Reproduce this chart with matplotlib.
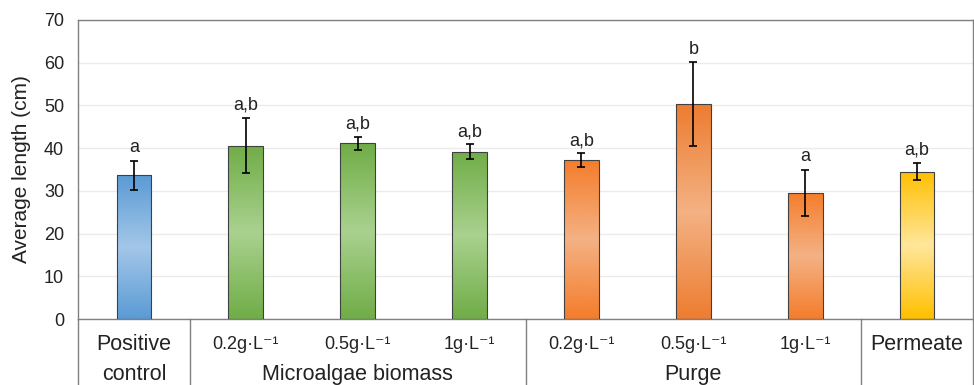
import numpy as np
import matplotlib.pyplot as plt
from matplotlib.colors import LinearSegmentedColormap

plt.rcParams['font.family'] = ['Liberation Sans', 'DejaVu Sans']

# data
sub_labels = ['Positive', '0.2g·L⁻¹', '0.5g·L⁻¹', '1g·L⁻¹',
              '0.2g·L⁻¹', '0.5g·L⁻¹', '1g·L⁻¹', 'Permeate']
groups = ['control', 'Microalgae biomass', 'Purge', '']
group_span = [(0, 0), (1, 3), (4, 6), (7, 7)]
means = [33.6, 40.6, 41.1, 39.2, 37.2, 50.3, 29.5, 34.5]
errs = [3.5, 6.5, 1.5, 1.7, 1.6, 9.8, 5.5, 2.0]
letters = ['a', 'a,b', 'a,b', 'a,b', 'a,b', 'b', 'a', 'a,b']
dark = ['#5B9BD5', '#70AD47', '#70AD47', '#70AD47', '#F47D2C', '#ED7D31', '#F47D2C', '#FFC000']
light = ['#A2C6E8', '#A9D18E', '#A9D18E', '#A9D18E', '#F4B183', '#F4B183', '#F4B183', '#FFE699']

fig = plt.figure(figsize=(9.74, 3.85), dpi=100)
ax = fig.add_axes([78/974, 66/385, 895/974, 299/385])

x = np.arange(len(means))
bars = ax.bar(x, means, 0.31, color='none', edgecolor='#404040', linewidth=0.8, zorder=3)

# vertical gradient: dark at both ends, light in the middle
grad = np.concatenate([np.linspace(0, 1, 50), np.linspace(1, 0, 50)]).reshape(-1, 1)
for b, d, l in zip(bars, dark, light):
    cmap = LinearSegmentedColormap.from_list('g', [d, l])
    im = ax.imshow(grad, cmap=cmap, aspect='auto', zorder=2,
                   extent=[b.get_x(), b.get_x() + b.get_width(), 0, b.get_height()])
    im.set_clip_path(b)

ax.errorbar(x, means, yerr=errs, fmt='none', ecolor='black', elinewidth=1.2,
            capsize=3, capthick=1.2, zorder=4)

for xi, m, e, t in zip(x, means, errs, letters):
    ax.annotate(t, (xi, m + e), xytext=(0, 3), textcoords='offset points',
                ha='center', va='bottom', fontsize=13, color='#222222')

ax.set_xlim(-0.5, 7.5)
ax.set_ylim(0, 70)
ax.set_yticks(range(0, 71, 10))
ax.tick_params(axis='y', length=0, labelsize=13, pad=10, labelcolor='#222222')
ax.set_xticks([])
ax.yaxis.grid(True, color='#EBEBEB', linewidth=1)
ax.set_axisbelow(True)
for s in ax.spines.values():
    s.set_color('#808080')
    s.set_linewidth(1)
ax.set_ylabel('Average length (cm)', fontsize=15, labelpad=9, color='#222222')

# multi level category axis
tr = ax.get_xaxis_transform()
for xi, lab in zip(x, sub_labels):
    fs = 15.5 if lab in ('Positive', 'Permeate') else 13
    ax.text(xi, -0.085, lab, transform=tr, ha='center', va='center', fontsize=fs, color='#222222')
for g, (a, b) in zip(groups, group_span):
    if g:
        ax.text((a + b) / 2, -0.205, g, transform=tr, ha='center', va='baseline',
                fontsize=15.5, color='#222222')
for xb in [-0.5, 0.5, 3.5, 6.5, 7.5]:
    ax.plot([xb, xb], [0, -0.3], transform=tr, color='#808080', linewidth=1, clip_on=False)

fig.savefig('out.png', dpi=100)
